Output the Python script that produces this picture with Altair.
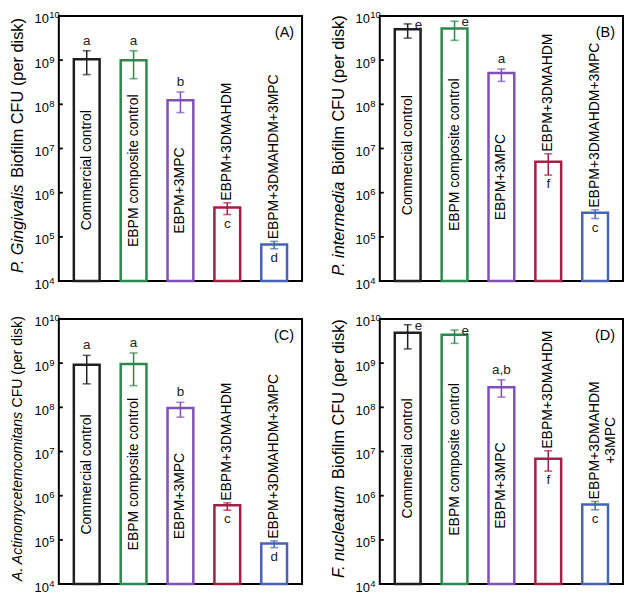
import math
import altair as alt
import pandas as pd

# ---------------- data ----------------
categories = ["Commercial control", "EBPM composite control", "EBPM+3MPC",
              "EBPM+3DMAHDM", "EBPM+3DMAHDM+3MPC"]

values_A = [1.04e9, 9.9e8, 1.24e8, 4.6e5, 6.7e4]
err_hi_A = [1.63e9, 1.63e9, 1.9e8, 5.9e5, 7.9e4]
err_lo_A = [4.7e8, 3.8e8, 6.5e7, 3.2e5, 5.4e4]
letters_A = ["a", "a", "b", "c", "d"]

values_B = [5.0e9, 5.2e9, 5.1e8, 5.0e6, 3.5e5]
err_hi_B = [6.6e9, 7.6e9, 6.3e8, 7.6e6, 4.1e5]
err_lo_B = [3.15e9, 2.8e9, 3.3e8, 2.5e6, 2.6e5]
letters_B = ["e", "e", "a", "f", "c"]

values_C = [9.2e8, 9.5e8, 9.7e7, 6.1e5, 8.3e4]
err_hi_C = [1.5e9, 1.7e9, 1.3e8, 6.9e5, 9.5e4]
err_lo_C = [3.4e8, 3.1e8, 6.0e7, 4.7e5, 6.7e4]
letters_C = ["a", "a", "b", "c", "d"]

values_D = [4.9e9, 4.4e9, 2.85e8, 6.9e6, 6.3e5]
err_hi_D = [7.4e9, 5.6e9, 4.2e8, 1.04e7, 7.4e5]
err_lo_D = [2.1e9, 2.8e9, 1.7e8, 3.6e6, 4.8e5]
letters_D = ["e", "e", "a,b", "f", "c"]

bar_labels_A = list(categories)
bar_labels_B = list(categories)
bar_labels_C = list(categories)
bar_labels_D = ["Commercial control", "EBPM composite control", "EBPM+3MPC",
                "EBPM+3DMAHDM", ["EBPM+3DMAHDM", "+3MPC"]]

titles = {
    "A": ("P. Gingivalis", "Biofilm CFU (per disk)"),
    "B": ("P. intermedia", "Biofilm CFU (per disk)"),
    "C": ("A. Actinomycetemcomitans", "CFU (per disk)"),
    "D": ("F. nucleatum", "Biofilm CFU (per disk)"),
}
tick_values = [1e4, 1e5, 1e6, 1e7, 1e8, 1e9, 1e10]
tick_exponents = ["4", "5", "6", "7", "8", "9", "10"]

# ---------------- style ----------------
palette = ["#1f1f1f", "#2a8a4c", "#8050b8", "#a51e46", "#4862b4"]
W, H = 244, 266
FONT = "Liberation Sans"
LABEL_SIZE = 14
LETTER_SIZE = 13.5

ARIAL = {' ': 278, '.': 278, '(': 333, ')': 333, '+': 584, ',': 278, '3': 556,
         'A': 667, 'B': 667, 'C': 722, 'D': 722, 'E': 667, 'F': 611, 'G': 778,
         'H': 722, 'M': 833, 'P': 667, 'U': 722, 'a': 556, 'b': 556, 'c': 500,
         'd': 556, 'e': 556, 'f': 278, 'g': 556, 'i': 222, 'k': 500, 'l': 222,
         'm': 833, 'n': 556, 'o': 556, 'p': 556, 'r': 333, 's': 500, 't': 278,
         'u': 556, 'v': 500, 'y': 500}


def text_w(s, size):
    return sum(ARIAL.get(ch, 556) for ch in s) / 1000.0 * size


ppd = H / 6.0  # pixels per decade

y_scale = alt.Scale(type="log", domain=[1e4, 1e10], nice=False)
x_enc = alt.X("cat:N", sort=categories, axis=None,
              scale=alt.Scale(paddingInner=0.45, paddingOuter=0.32))
c_scale = alt.Scale(domain=categories, range=palette)
ticks_df = pd.DataFrame({"v": tick_values, "exp": tick_exponents})


def Y(field):
    return alt.Y(field, scale=y_scale, axis=None)


def panel(values, hi, lo, letters, labels, tag, title_size):
    df = pd.DataFrame({"cat": categories, "value": values, "hi": hi, "lo": lo,
                       "letter": letters})
    df["label"] = labels
    df["base"] = 1e4
    ly, lpos = [], []
    for v, h, lab in zip(values, hi, labels):
        if v >= 1e7:
            ly.append(math.sqrt(v * 1e4))
        else:
            longest = lab if isinstance(lab, str) else max(lab, key=lambda s: text_w(s, LABEL_SIZE))
            w = text_w(longest, LABEL_SIZE)
            ly.append(10 ** (math.log10(h) + (2 + w / 2) / ppd))
        if h > 10 ** 9.6:
            lpos.append("right")
        elif v >= 1e7:
            lpos.append("above")
        else:
            lpos.append("below")
    df["ly"] = ly
    df["lpos"] = lpos

    base = alt.Chart(df)
    col = alt.Color("cat:N", scale=c_scale, legend=None)

    bars = base.mark_bar(fill="white", strokeWidth=2.5).encode(
        x=x_enc, y=Y("value:Q"), y2=alt.Y2("base:Q"),
        stroke=alt.Stroke("cat:N", scale=c_scale, legend=None),
    )
    err = base.mark_rule(strokeWidth=1.5).encode(
        x=x_enc, y=Y("lo:Q"), y2=alt.Y2("hi:Q"), color=col)
    cap_hi = base.mark_tick(thickness=1.6, size=8).encode(x=x_enc, y=Y("hi:Q"), color=col)
    cap_lo = base.mark_tick(thickness=1.6, size=8).encode(x=x_enc, y=Y("lo:Q"), color=col)

    labels_layer = base.mark_text(angle=270, align="center", baseline="middle",
                                  font=FONT, fontSize=LABEL_SIZE, color="black",
                                  lineHeight=16).encode(x=x_enc, y=Y("ly:Q"), text="label")

    let_above = base.transform_filter("datum.lpos == 'above'").mark_text(
        baseline="alphabetic", dy=-6, font=FONT, fontSize=LETTER_SIZE, color="#222"
    ).encode(x=x_enc, y=Y("hi:Q"), text="letter:N")
    let_below = base.transform_filter("datum.lpos == 'below'").mark_text(
        baseline="top", dy=2, font=FONT, fontSize=LETTER_SIZE, color="#222"
    ).encode(x=x_enc, y=Y("lo:Q"), text="letter:N")
    let_right = base.transform_filter("datum.lpos == 'right'").mark_text(
        baseline="middle", align="left", dx=7, dy=1, font=FONT, fontSize=LETTER_SIZE, color="#222"
    ).encode(x=x_enc, y=Y("hi:Q"), text="letter:N")

    # y axis: inward ticks and 10^n labels
    tbase = alt.Chart(ticks_df)
    ticks = tbase.mark_rule(strokeWidth=1.8, color="black").encode(
        y=Y("v:Q"), x=alt.value(0), x2=alt.value(4))
    ten = tbase.mark_text(text="10", align="right", baseline="middle", dy=3.5,
                          font=FONT, fontSize=13, color="black").encode(
        y=Y("v:Q"), x=alt.value(-10))
    expo = tbase.mark_text(align="left", baseline="middle", dy=-0.5,
                           font=FONT, fontSize=9.5, color="black").encode(
        y=Y("v:Q"), x=alt.value(-9.5), text="exp:N")

    # y-axis title: italic species name followed by regular text
    t_it, t_rest = titles[tag]
    w_it = text_w(t_it, title_size)
    w_sp = text_w(" ", title_size)
    w_rest = text_w(t_rest, title_size)
    total = w_it + w_sp + w_rest
    bottom = H / 2 - 3 + total / 2
    one = alt.Data(values=[{"k": 1}])
    title_it = alt.Chart(one).mark_text(
        text=t_it, angle=270, align="left", baseline="middle", font=FONT,
        fontSize=title_size, fontStyle="italic", color="black"
    ).encode(x=alt.value(-41), y=alt.value(bottom))
    title_rest = alt.Chart(one).mark_text(
        text=t_rest, angle=270, align="left", baseline="middle", font=FONT,
        fontSize=title_size, color="black"
    ).encode(x=alt.value(-41), y=alt.value(bottom - w_it - w_sp))
    tag_text = alt.Chart(one).mark_text(
        text=f"({tag})", align="right", baseline="middle", font=FONT,
        fontSize=14.5, color="black"
    ).encode(x=alt.value(W - 8), y=alt.value(17))

    return alt.layer(bars, err, cap_hi, cap_lo, labels_layer, let_above,
                     let_below, let_right, ticks, ten, expo,
                     title_it, title_rest, tag_text
                     ).properties(width=W, height=H)


pA = panel(values_A, err_hi_A, err_lo_A, letters_A, bar_labels_A, "A", 16.4)
pB = panel(values_B, err_hi_B, err_lo_B, letters_B, bar_labels_B, "B", 16.4)
pC = panel(values_C, err_hi_C, err_lo_C, letters_C, bar_labels_C, "C", 14.1)
pD = panel(values_D, err_hi_D, err_lo_D, letters_D, bar_labels_D, "D", 16.4)

chart = alt.vconcat(
    alt.hconcat(pA, pB, spacing=26),
    alt.hconcat(pC, pD, spacing=26),
    spacing=19,
).properties(padding=0).configure_view(stroke="black", strokeWidth=2)

chart.save("out.html", embed_options={"renderer": "svg", "actions": False})
